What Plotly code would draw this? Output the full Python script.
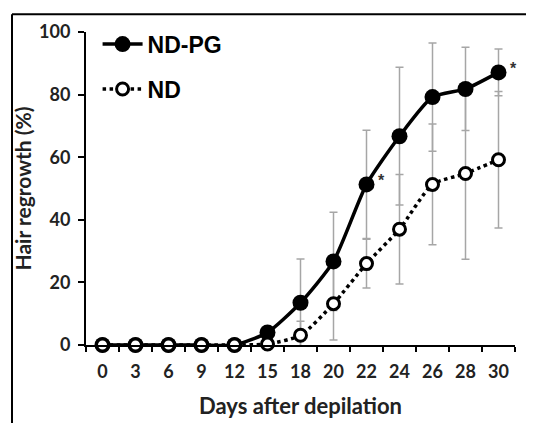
import plotly.graph_objects as go

days = ["0", "3", "6", "9", "12", "15", "18", "20", "22", "24", "26", "28", "30"]
nd_pg = [0, 0, 0, 0, 0, 4, 13.5, 26.7, 51.3, 66.7, 79.2, 81.8, 87.1]
nd_pg_err = [0, 0, 0, 0, 0, 1, 14, 15.7, 17.3, 22, 17.3, 13.3, 7.5]
nd = [0, 0, 0, 0, 0, 0.3, 3.1, 13.2, 26, 37, 51.3, 54.8, 59.2]
nd_err = [0, 0, 0, 0, 0, 0, 4.5, 11.6, 7.8, 17.5, 19.3, 27.4, 21.8]
star_days = ["22", "30"]
star_vals = [51.3, 87.1]

W, H = 534, 423
OFF = 8  # page offset of the plot div
L, R, T, B = 86 - OFF, 19 + OFF, 27 - OFF, 78 + OFF
pw, ph = W - L - R, H - T - B

fig = go.Figure()

ebar = dict(type="data", visible=True, color="#a6a6a6", thickness=1.5, width=4)
for vals, errs in [(nd_pg, nd_pg_err), (nd, nd_err)]:
    fig.add_trace(go.Scatter(
        x=days, y=vals, mode="markers",
        marker=dict(size=1, color="rgba(0,0,0,0)"),
        error_y=dict(array=errs, **ebar),
        showlegend=False, hoverinfo="skip", cliponaxis=False))

fig.add_trace(go.Scatter(
    x=days, y=nd_pg, name="ND-PG", mode="lines+markers", legendgroup="a",
    line=dict(color="black", width=3.5, shape="spline", smoothing=0.6),
    marker=dict(symbol="circle", size=16, color="black", line=dict(color="black", width=0)),
    cliponaxis=False))
fig.add_trace(go.Scatter(
    x=days, y=nd, name="ND", mode="lines+markers", legendgroup="b",
    line=dict(color="black", width=3.5, dash="dot", shape="spline", smoothing=0.6),
    marker=dict(symbol="circle", size=12, color="white", line=dict(color="black", width=3)),
    cliponaxis=False))

for d, v in zip(star_days, star_vals):
    fig.add_annotation(x=days.index(d), y=v, text="<b>*</b>", showarrow=False,
                       xanchor="left", xshift=9, yshift=4,
                       font=dict(family="Liberation Sans", size=16, color="#333333"))

# figure frame (top and left border)
fig.add_shape(type="line", xref="paper", yref="paper",
              x0=(12 - OFF - L) / pw, x1=(W - L) / pw,
              y0=(H - B - 1) / ph, y1=(H - B - 1) / ph,
              line=dict(color="black", width=2))
fig.add_shape(type="line", xref="paper", yref="paper",
              x0=(12 - OFF - L) / pw, x1=(12 - OFF - L) / pw,
              y0=(H - B - 1) / ph, y1=-B / ph,
              line=dict(color="black", width=2))

fig.update_layout(
    width=W, height=H,
    margin=dict(l=L, r=R, t=T, b=B),
    paper_bgcolor="white", plot_bgcolor="white",
    showlegend=True,
    legend=dict(x=0.027, y=1.03, xanchor="left", yanchor="top",
                font=dict(family="Liberation Sans", size=23, color="black", weight="bold"),
                bgcolor="rgba(0,0,0,0)", tracegroupgap=12, itemwidth=40),
    xaxis=dict(type="category", categoryorder="array", categoryarray=days,
               range=[-0.5, 12.5], showline=True, linecolor="black", linewidth=2,
               ticks="outside", ticklen=5, tickcolor="black", tickwidth=1.5,
               tickson="boundaries", showgrid=False, zeroline=False,
               tickfont=dict(family="Lato", size=18, color="#222222", weight="bold"),
               ticklabelstandoff=9,
               title=dict(text="<b>Days after depilation</b>", standoff=18,
                          font=dict(family="Lato", size=22, color="#222222"))),
    yaxis=dict(range=[0, 100], tickvals=[0, 20, 40, 60, 80, 100],
               showline=True, linecolor="black", linewidth=2,
               ticks="outside", ticklen=6, tickcolor="black", tickwidth=1.5,
               showgrid=False, zeroline=False,
               tickfont=dict(family="Lato", size=18, color="#222222", weight="bold"),
               ticklabelstandoff=4,
               title=dict(text="<b>Hair regrowth (%)</b>", standoff=2,
                          font=dict(family="Lato", size=21, color="#222222"))),
)

fig.write_html("out.html")
